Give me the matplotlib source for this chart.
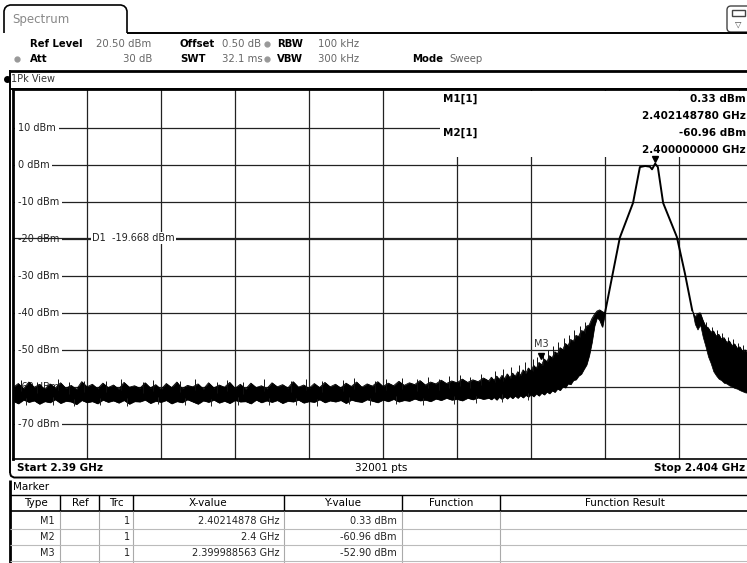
import numpy as np
import matplotlib.pyplot as plt
from matplotlib.patches import Rectangle, FancyBboxPatch
from matplotlib.transforms import blended_transform_factory, offset_copy

W, H = 747, 563

# sweep / display settings (MHz, dBm)
f_start, f_stop = 2390.0, 2404.0
ref_level = 20.5
d1_level = -19.668
y_grid = [10, 0, -10, -20, -30, -40, -50, -60, -70]
y_labels = ['10 dBm', '0 dBm', '-10 dBm', '-20 dBm', '-30 dBm',
            '-40 dBm', '-50 dBm', '-60 dBm', '-70 dBm']

# noise floor, read every 0.1 MHz (upper / lower edge of the trace)
floor_mhz = [2390.0, 2390.1, 2390.2, 2390.3, 2390.4, 2390.5, 2390.6, 2390.7, 2390.8, 2390.9,
             2391.0, 2391.1, 2391.2, 2391.3, 2391.4, 2391.5, 2391.6, 2391.7, 2391.8, 2391.9,
             2392.0, 2392.1, 2392.2, 2392.3, 2392.4, 2392.5, 2392.6, 2392.7, 2392.8, 2392.9,
             2393.0, 2393.1, 2393.2, 2393.3, 2393.4, 2393.5, 2393.6, 2393.7, 2393.8, 2393.9,
             2394.0, 2394.1, 2394.2, 2394.3, 2394.4, 2394.5, 2394.6, 2394.7, 2394.8, 2394.9,
             2395.0, 2395.1, 2395.2, 2395.3, 2395.4, 2395.5, 2395.6, 2395.7, 2395.8, 2395.9,
             2396.0, 2396.1, 2396.2, 2396.3, 2396.4, 2396.5, 2396.6, 2396.7, 2396.8, 2396.9,
             2397.0, 2397.1, 2397.2, 2397.3, 2397.4, 2397.5, 2397.6, 2397.7, 2397.8, 2397.9,
             2398.0, 2398.1, 2398.2, 2398.3, 2398.4, 2398.5, 2398.6, 2398.7, 2398.8, 2398.9,
             2399.0]
floor_hi = [-60.2, -59.1, -60.5, -58.7, -60.1, -59.4, -60.6, -59.2, -60.3, -58.9,
            -60.4, -59.6, -60.7, -58.6, -60.0, -59.3, -60.5, -59.0, -60.2, -59.5,
            -60.6, -58.8, -60.1, -59.7, -60.4, -58.9, -60.3, -59.4, -60.7, -59.1,
            -60.2, -58.7, -60.5, -59.6, -60.0, -59.2, -60.6, -58.9, -60.3, -59.5,
            -60.1, -58.8, -60.4, -59.3, -60.6, -59.0, -60.2, -59.7, -60.5, -58.9,
            -60.0, -59.4, -60.3, -58.6, -60.1, -59.5, -60.4, -59.1, -60.2, -58.8,
            -60.0, -59.3, -60.3, -59.0, -59.9, -58.7, -60.1, -59.2, -59.8, -58.6,
            -59.9, -59.0, -59.7, -58.5, -59.6, -58.9, -59.4, -58.3, -59.5, -58.7,
            -59.2, -58.2, -59.1, -58.4, -58.9, -57.9, -58.8, -58.1, -58.6, -57.6,
            -58.4]
floor_lo = [-63.8, -64.5, -63.5, -64.1, -63.7, -64.6, -63.9, -64.2, -63.4, -64.4,
            -63.8, -64.0, -64.7, -63.6, -64.2, -63.9, -64.5, -63.5, -64.1, -63.7,
            -64.3, -63.6, -64.6, -63.9, -64.0, -63.5, -64.4, -63.8, -64.1, -63.6,
            -64.5, -63.9, -64.2, -63.4, -64.0, -64.6, -63.7, -64.1, -63.5, -64.3,
            -63.8, -64.4, -63.6, -64.0, -63.9, -64.5, -63.5, -64.2, -63.7, -64.1,
            -63.6, -64.4, -63.8, -64.0, -63.5, -64.3, -63.9, -64.1, -63.4, -64.2,
            -63.7, -64.0, -63.6, -64.4, -63.5, -63.9, -64.1, -63.4, -63.8, -64.2,
            -63.5, -63.9, -63.3, -64.0, -63.6, -63.8, -63.2, -63.7, -63.5, -63.9,
            -63.2, -63.6, -63.0, -63.5, -63.3, -63.7, -63.0, -63.4, -62.9, -63.3,
            -63.0]

# lower skirt of the carrier, read every 0.05 MHz
rise_mhz = [2399.05, 2399.10, 2399.15, 2399.20, 2399.25, 2399.30, 2399.35, 2399.40,
            2399.45, 2399.50, 2399.55, 2399.60, 2399.65, 2399.70, 2399.75, 2399.80,
            2399.85, 2399.90, 2399.95, 2400.00, 2400.05, 2400.10, 2400.15, 2400.20,
            2400.25, 2400.30, 2400.35, 2400.40, 2400.45, 2400.50, 2400.55, 2400.60,
            2400.65, 2400.70, 2400.75, 2400.80, 2400.85, 2400.90, 2400.95, 2401.00,
            2401.05, 2401.10, 2401.15, 2401.20]
rise_hi = [-57.4, -58.3, -57.1, -58.0, -56.9, -57.8, -56.5, -57.6,
           -56.3, -57.2, -55.9, -56.9, -55.4, -56.4, -54.9, -55.8,
           -54.2, -55.0, -53.4, -54.1, -52.5, -53.2, -51.6, -52.2,
           -50.5, -51.1, -49.4, -50.0, -48.3, -48.9, -47.2, -47.7,
           -46.1, -46.4, -44.8, -45.0, -43.6, -43.3, -41.6, -40.4,
           -39.5, -39.2, -39.7, -40.0]
rise_lo = [-63.4, -62.8, -63.5, -62.7, -63.3, -62.6, -63.2, -62.5,
           -63.1, -62.4, -63.0, -62.3, -62.9, -62.2, -62.7, -62.0,
           -62.6, -61.8, -62.4, -61.6, -62.1, -61.3, -61.8, -61.0,
           -61.4, -60.5, -60.9, -59.9, -60.2, -59.1, -59.3, -58.2,
           -58.0, -57.0, -56.5, -55.2, -54.0, -51.5, -48.0, -43.5,
           -41.2, -42.0, -43.8, -40.0]

# single peaks sticking out above / below the band
spike_mhz = [2390.15, 2390.45, 2390.85, 2391.05, 2391.35, 2391.75, 2392.05, 2392.45,
             2392.65, 2393.15, 2393.45, 2393.85, 2394.05, 2394.35, 2394.75, 2395.25,
             2395.55, 2395.85, 2396.25, 2396.45, 2396.85, 2397.05, 2397.35, 2397.65,
             2397.85, 2398.05, 2398.25, 2398.45, 2398.65, 2398.85,
             2399.12, 2399.27, 2399.42, 2399.57, 2399.68, 2399.83, 2399.92, 2400.02,
             2400.12, 2400.22, 2400.32, 2400.42, 2400.52, 2400.62, 2400.72, 2400.82,
             2403.12, 2403.22, 2403.32, 2403.42, 2403.52, 2403.62, 2403.72, 2403.82]
spike_top = [-58.2, -58.6, -57.9, -58.8, -58.3, -58.5, -57.8, -58.7,
             -58.1, -58.4, -57.9, -58.6, -58.2, -58.8, -58.0, -58.5,
             -57.8, -58.3, -58.1, -57.6, -58.4, -57.9, -57.5, -58.0,
             -57.4, -57.8, -57.2, -56.9, -57.3, -56.6,
             -55.8, -55.3, -54.6, -54.0, -53.2, -52.6, -51.8, -51.0,
             -50.1, -48.9, -48.0, -46.8, -45.9, -44.7, -43.5, -42.4,
             -42.5, -43.8, -44.6, -45.5, -46.4, -47.2, -48.1, -48.8]
dip_mhz = [2390.25, 2390.75, 2391.15, 2391.65, 2392.15, 2392.75, 2393.25, 2393.75,
           2394.25, 2394.85, 2395.35, 2395.75, 2396.35, 2396.75, 2397.25, 2397.75,
           2398.35, 2398.75, 2399.25, 2399.75]
dip_bot = [-65.0, -64.8, -65.2, -64.9, -65.1, -64.7, -65.0, -65.3,
           -64.8, -65.0, -64.9, -65.2, -64.7, -65.0, -64.6, -64.9,
           -64.5, -64.4, -64.0, -63.6]

# main lobe
lobe_mhz = [2401.2, 2401.48, 2401.73, 2401.86, 2401.96, 2402.05, 2402.09,
            2402.14878, 2402.2, 2402.3, 2402.56, 2402.71, 2402.85]
lobe_dbm = [-40.0, -19.7, -10.3, -0.6, -0.3, -0.5, -1.2,
            0.33, -0.6, -10.3, -19.5, -29.2, -39.3]

# upper skirt
skirt_mhz = [2402.85, 2402.90, 2402.95, 2403.00, 2403.05, 2403.10, 2403.15, 2403.20,
             2403.25, 2403.30, 2403.35, 2403.40, 2403.45, 2403.50, 2403.55, 2403.60,
             2403.65, 2403.70, 2403.75, 2403.80, 2403.85, 2403.90, 2403.95, 2404.00]
skirt_hi = [-39.3, -41.2, -40.2, -40.0, -42.0, -43.6, -44.0, -45.2,
            -44.9, -46.3, -45.8, -47.1, -46.7, -48.0, -47.6, -48.9,
            -48.4, -49.6, -49.2, -50.5, -50.0, -51.3, -51.0, -52.0]
skirt_lo = [-39.3, -43.0, -44.5, -43.2, -46.5, -49.0, -51.8, -53.6,
            -55.8, -56.9, -57.8, -58.2, -58.9, -59.1, -59.6, -59.9,
            -60.3, -60.5, -60.9, -61.2, -61.5, -61.6, -61.9, -62.1]

markers = ['M1', 'M2', 'M3']
marker_mhz = [2402.14878, 2400.0, 2399.988563]
marker_dbm = [0.33, -60.96, -52.90]
marker_xtxt = ['2.40214878 GHz', '2.4 GHz', '2.399988563 GHz']
marker_ytxt = ['0.33 dBm', '-60.96 dBm', '-52.90 dBm']


def box(x0, y0, x1, y1):
    return [x0 / W, 1 - y1 / H, (x1 - x0) / W, (y1 - y0) / H]


fig = plt.figure(figsize=(W / 100, H / 100), dpi=100)

# ---- spectrum
ax = fig.add_axes(box(13, 89, 753, 459))
ax.set_xlim(f_start, f_stop)
ax.set_ylim(ref_level - 100, ref_level)
ax.set_xticks([f_start + 1.4 * k for k in range(1, 10)])
ax.set_yticks(y_grid)
ax.tick_params(length=0, labelbottom=False, labelleft=False)
ax.grid(True, color='#222222', lw=0.9)
ax.set_axisbelow(True)
for s in ['top', 'left']:
    ax.spines[s].set_linewidth(2)
ax.spines['bottom'].set_linewidth(1.2)
ax.spines['right'].set_visible(False)

lab_tr = blended_transform_factory(ax.transAxes, ax.transData)
for v, t in zip(y_grid, y_labels):
    ax.text(0.0065, v, t, transform=lab_tr, va='center', ha='left', fontsize=7,
            color='#222222', zorder=2,
            bbox=dict(fc='white', ec='none', pad=2.2))
ax.axhline(d1_level, color='#222222', lw=0.9, zorder=2.5)
ax.text(0.107, d1_level, 'D1  -19.668 dBm', transform=lab_tr, va='center',
        ha='left', fontsize=7, color='#222222', zorder=2.6,
        bbox=dict(fc='white', ec='none', pad=0.8))

band_mhz = floor_mhz + rise_mhz
band_hi = floor_hi + rise_hi
band_lo = floor_lo + rise_lo
ax.fill_between(band_mhz, band_lo, band_hi, color='black', lw=0.5, zorder=3)
ax.plot(band_mhz, band_hi, color='black', lw=0.6, zorder=3)
ax.plot(band_mhz, band_lo, color='black', lw=0.6, zorder=3)
ax.vlines(spike_mhz, np.array(spike_top) - 3, spike_top, color='#111111', lw=0.7, zorder=3)
ax.vlines(dip_mhz, dip_bot, np.array(dip_bot) + 2, color='#222222', lw=0.7, zorder=3)
ax.plot(lobe_mhz, lobe_dbm, color='black', lw=1.4, zorder=3)
ax.fill_between(skirt_mhz, skirt_lo, skirt_hi, color='black', lw=0.5, zorder=3)
ax.plot(skirt_mhz, skirt_hi, color='black', lw=0.6, zorder=3)

# ---- overlay in pixel coordinates
ov = fig.add_axes([0, 0, 1, 1], zorder=3)
ov.set_xlim(0, W)
ov.set_ylim(H, 0)
ov.axis('off')
ov.patch.set_alpha(0)


def line(xs, ys, lw=1.0, c='black'):
    ov.plot(xs, ys, color=c, lw=lw, solid_capstyle='butt')


# tab
line([4, 4, 5, 7, 10, 121, 124, 126, 127, 127],
     [33, 11, 8, 6, 5, 5, 6, 8, 11, 33], lw=1.2)
ov.text(12, 19, 'Spectrum', fontsize=8.5, color='#888888', va='center')
line([127, W], [33, 33], lw=1.4)
ov.add_patch(FancyBboxPatch((727, 6), 26, 26, boxstyle='round,pad=0,rounding_size=4',
                            fc='white', ec='#444444', lw=1))
ov.add_patch(Rectangle((732, 10), 13, 6, fc='white', ec='#444444', lw=1))
ov.text(738, 24, '\u25bd', fontsize=6, ha='center', va='center', color='#444444')

# settings rows
hdr = dict(fontsize=7.3, va='center')
ov.text(30, 44, 'Ref Level', fontweight='bold', **hdr)
ov.text(96, 44, '20.50 dBm', color='#666666', **hdr)
ov.text(180, 44, 'Offset', fontweight='bold', **hdr)
ov.text(222, 44, '0.50 dB', color='#666666', **hdr)
ov.text(277, 44, 'RBW', fontweight='bold', **hdr)
ov.text(318, 44, '100 kHz', color='#666666', **hdr)
ov.text(30, 59, 'Att', fontweight='bold', **hdr)
ov.text(152, 59, '30 dB', color='#666666', ha='right', **hdr)
ov.text(180, 59, 'SWT', fontweight='bold', **hdr)
ov.text(222, 59, '32.1 ms', color='#666666', **hdr)
ov.text(277, 59, 'VBW', fontweight='bold', **hdr)
ov.text(318, 59, '300 kHz', color='#666666', **hdr)
ov.text(412, 59, 'Mode', fontweight='bold', **hdr)
ov.text(449, 59, 'Sweep', color='#666666', **hdr)
ov.plot([267, 267, 17], [44, 59, 59], 'o', color='#999999', ms=3.5)
line([10, W], [70.5, 70.5], lw=2)

# 1Pk View row
ov.plot([7], [79], 'o', color='black', ms=4)
ov.text(11, 79, '1Pk View', fontsize=7, va='center', color='#333333')
line([10, 10], [70, 473], lw=1.4)
line([10, W], [88.5, 88.5], lw=1.4)

# Start / Stop strip
line([10, 11, 14, W], [473, 476, 477.5, 477.5], lw=1.4)
ov.text(17, 468, 'Start 2.39 GHz', fontsize=7.5, fontweight='bold', va='center')
ov.text(381, 468, '32001 pts', fontsize=7.5, ha='center', va='center')
ov.text(745, 468, 'Stop 2.404 GHz', fontsize=7.5, fontweight='bold', va='center',
        ha='right')

# marker info box
ov.add_patch(Rectangle((440, 91), 320, 66, fc='white', ec='none'))
mi = dict(fontsize=7.5, va='center', fontweight='bold')
ov.text(443, 99, 'M1[1]', **mi)
ov.text(746, 99, marker_ytxt[0], ha='right', **mi)
ov.text(746, 116, '2.402148780 GHz', ha='right', **mi)
ov.text(443, 133, 'M2[1]', **mi)
ov.text(746, 133, marker_ytxt[1], ha='right', **mi)
ov.text(746, 150, '2.400000000 GHz', ha='right', **mi)

# marker triangles (data coordinates)
tri = offset_copy(ax.transData, fig=fig, y=3, units='points')
for name, f, p in zip(markers, marker_mhz, marker_dbm):
    ov.plot([f], [p], marker='v', color='black', ms=5, transform=tri)
lbl = offset_copy(ax.transData, fig=fig, y=8, units='points')
ov.text(marker_mhz[2], marker_dbm[2], 'M3', transform=lbl, fontsize=7,
        ha='center', va='bottom', color='#333333')

# marker table
ov.text(13, 487, 'Marker', fontsize=7.5, va='center')
cols = [10, 60, 99, 133, 284, 402, 500]
line([10, 10], [480, H], lw=2)
line([10, W], [495, 495], lw=1)
line([10, W], [511, 511], lw=1.2)
for c in cols[1:]:
    line([c, c], [495, 511], lw=1)
    line([c, c], [511, H], lw=0.8, c='#aaaaaa')
for yy in [529, 545, 561]:
    line([10, W], [yy, yy], lw=0.8, c='#bbbbbb')
th = dict(fontsize=7.5, va='center', ha='center')
for t, cx in zip(['Type', 'Ref', 'Trc', 'X-value', 'Y-value', 'Function',
                  'Function Result'],
                 [36, 80, 116, 208, 343, 451, 625]):
    ov.text(cx, 503, t, **th)
td = dict(fontsize=7, va='center', ha='right', color='#222222')
for i, yy in enumerate([521, 537, 553]):
    ov.text(55, yy, markers[i], **td)
    ov.text(130, yy, '1', **td)
    ov.text(279, yy, marker_xtxt[i], **td)
    ov.text(397, yy, marker_ytxt[i], **td)

plt.savefig('out.png', dpi=100)
